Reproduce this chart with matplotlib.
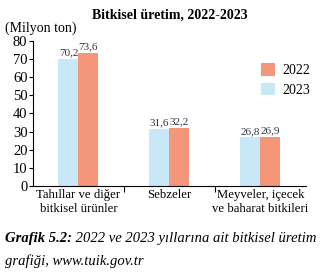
import matplotlib.pyplot as plt
import numpy as np

plt.rcParams['font.family'] = ['Liberation Serif', 'DejaVu Serif']

categories = ["Tahıllar ve diğer\nbitkisel ürünler", "Sebzeler", "Meyveler, içecek\nve baharat bitkileri"]
values_2023 = [70.2, 31.6, 26.8]
values_2022 = [73.6, 32.2, 26.9]
labels_2023 = ["70,2", "31,6", "26,8"]
labels_2022 = ["73,6", "32,2", "26,9"]
yticks = [0, 10, 20, 30, 40, 50, 60, 70, 80]

c2022 = "#F4967A"
c2023 = "#C8E8F8"

fig = plt.figure(figsize=(3.3, 2.73), dpi=100)
ax = fig.add_axes([0.1, 0.319, 0.827, 0.531])

x = np.arange(len(categories))
w = 0.22
b23 = ax.bar(x - w / 2, values_2023, w, color=c2023, label="2023")
b22 = ax.bar(x + w / 2, values_2022, w, color=c2022, label="2022")

for bars, labs in [(b23, labels_2023), (b22, labels_2022)]:
    for b, t in zip(bars, labs):
        ax.text(b.get_x() + b.get_width() / 2, b.get_height() + 0.8, t,
                ha="center", va="bottom", fontsize=8, color="#333344")

ax.set_xlim(-0.5, 2.5)
ax.set_ylim(0, 80)
ax.set_yticks(yticks)
ax.tick_params(axis="y", labelsize=10.5, length=3, pad=1)
ax.set_xticks([0.5, 1.5])
ax.set_xticklabels([])
ax.set_xticks(x, minor=True)
ax.set_xticklabels(categories, minor=True, fontsize=9.2, linespacing=1.3)
ax.tick_params(axis="x", which="major", length=4)
ax.tick_params(axis="x", which="minor", length=0, pad=2)

for s in ["top", "right"]:
    ax.spines[s].set_visible(False)

ax.set_title("Bitkisel üretim, 2022-2023", fontsize=10, fontweight="bold", pad=16)
fig.text(0.015, 0.885, "(Milyon ton)", fontsize=10)

h, l = ax.get_legend_handles_labels()
ax.legend(h[::-1], l[::-1], loc="center left", bbox_to_anchor=(0.79, 0.73),
          frameon=False, fontsize=10, handlelength=1.0, handleheight=1.0,
          handletextpad=0.5, labelspacing=0.4)

cap = fig.text(0.015, 0.115, "Grafik 5.2:", fontsize=10.5, style="italic", fontweight="bold")
fig.canvas.draw()
ax.annotate(" 2022 ve 2023 yıllarına ait bitkisel üretim", xy=(1, 0), xycoords=cap,
            va="bottom", fontsize=10.5, style="italic")
fig.text(0.015, 0.03, "grafiği, www.tuik.gov.tr", fontsize=10.5, style="italic")

fig.savefig("out.png", dpi=100)
